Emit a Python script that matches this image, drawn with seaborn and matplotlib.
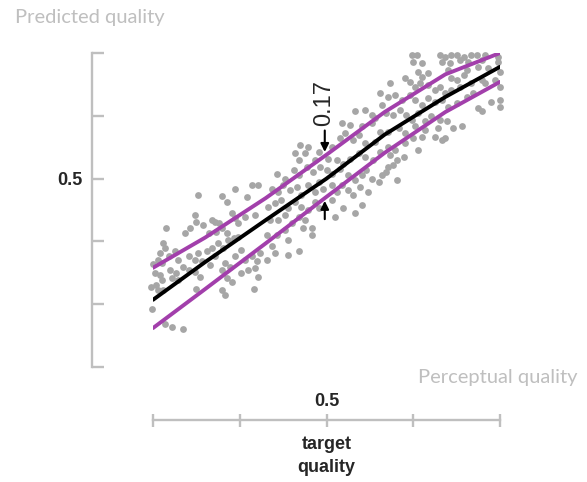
import pandas as pd
import seaborn as sns
import matplotlib.pyplot as plt

# 1. Data
perceptual_q = [
    0.352, 0.380, 0.385, 0.408, 0.348, 0.350, 0.368, 0.371, 0.376, 0.391, 0.394, 0.398, 0.406, 0.418,
    0.315, 0.337, 0.343, 0.358, 0.364, 0.373, 0.379, 0.385, 0.387, 0.393, 0.398,
    0.312, 0.314, 0.308, 0.306, 0.300, 0.310, 0.318, 0.325, 0.329, 0.335, 0.341, 0.348, 0.352, 0.356,
    0.362, 0.368, 0.371, 0.375, 0.381, 0.383, 0.389, 0.395, 0.402, 0.406, 0.414, 0.420, 0.423,
    0.302, 0.308, 0.310, 0.320, 0.322, 0.327, 0.329, 0.341, 0.348, 0.354, 0.366, 0.379, 0.385, 0.391,
    0.402, 0.410, 0.418, 0.421, 0.298, 0.304, 0.306, 0.312, 0.350, 0.379, 0.383, 0.416,
    0.299, 0.314, 0.322, 0.335, 0.395, 0.414, 0.421,
    0.518, 0.527, 0.541, 0.552, 0.562, 0.469, 0.479, 0.475, 0.464, 0.468, 0.491, 0.487, 0.506, 0.516,
    0.521, 0.531, 0.537, 0.544, 0.556, 0.562, 0.554, 0.544, 0.537, 0.527, 0.519, 0.512, 0.502,
    0.443, 0.452, 0.462, 0.468, 0.477, 0.485, 0.493, 0.500, 0.506, 0.516, 0.525, 0.533, 0.541, 0.546,
    0.552, 0.560, 0.564, 0.437, 0.444, 0.450, 0.458, 0.466, 0.471, 0.479, 0.487, 0.491, 0.496, 0.506,
    0.512, 0.518, 0.525, 0.531, 0.539, 0.548, 0.433, 0.441, 0.448, 0.456, 0.464, 0.471, 0.479, 0.487,
    0.491, 0.506, 0.519, 0.533, 0.541, 0.510, 0.435, 0.444, 0.452, 0.460, 0.468, 0.475, 0.483, 0.473,
    0.452, 0.431, 0.443, 0.456, 0.437, 0.441, 0.456, 0.468, 0.431, 0.483,
    0.562, 0.533, 0.544, 0.552, 0.564, 0.556,
    0.598, 0.604, 0.631, 0.637, 0.644, 0.650, 0.658, 0.667, 0.673, 0.683, 0.698,
    0.600, 0.610, 0.633, 0.642, 0.654, 0.663, 0.679, 0.698,
    0.617, 0.606, 0.610, 0.640, 0.644, 0.650, 0.658, 0.662, 0.675, 0.686, 0.700,
    0.573, 0.590, 0.596, 0.602, 0.608, 0.617, 0.625, 0.631, 0.637, 0.644, 0.654, 0.667, 0.679, 0.683,
    0.694, 0.700, 0.700, 0.571, 0.579, 0.587, 0.596, 0.602, 0.610, 0.617, 0.625, 0.633, 0.640, 0.650,
    0.662, 0.669, 0.675, 0.679, 0.690, 0.700, 0.569, 0.577, 0.585, 0.592, 0.598, 0.606, 0.614, 0.621,
    0.631, 0.639, 0.646, 0.656, 0.629, 0.614, 0.602, 0.571, 0.583, 0.590, 0.600, 0.610, 0.625, 0.633,
    0.637, 0.571, 0.579, 0.590, 0.606, 0.573, 0.581, 0.589, 0.571, 0.577, 0.569, 0.581,
]
predicted_q = [
    0.474, 0.472, 0.463, 0.470, 0.442, 0.431, 0.434, 0.431, 0.429, 0.445, 0.437, 0.429, 0.439, 0.442,
    0.421, 0.413, 0.421, 0.426, 0.413, 0.415, 0.421, 0.413, 0.402, 0.405, 0.407,
    0.397, 0.389, 0.381, 0.370, 0.364, 0.365, 0.376, 0.384, 0.370, 0.360, 0.376, 0.370, 0.381, 0.368,
    0.384, 0.389, 0.376, 0.397, 0.389, 0.365, 0.360, 0.376, 0.386, 0.370, 0.376, 0.368, 0.381,
    0.349, 0.346, 0.338, 0.354, 0.341, 0.349, 0.338, 0.354, 0.352, 0.344, 0.362, 0.354, 0.341, 0.336,
    0.349, 0.354, 0.357, 0.344, 0.328, 0.330, 0.323, 0.323, 0.325, 0.323, 0.315, 0.324,
    0.293, 0.269, 0.264, 0.261, 0.484, 0.490, 0.490,
    0.588, 0.585, 0.583, 0.588, 0.575, 0.554, 0.551, 0.540, 0.540, 0.530, 0.543, 0.530, 0.551, 0.564,
    0.572, 0.561, 0.569, 0.556, 0.559, 0.543, 0.530, 0.535, 0.540, 0.532, 0.524, 0.530, 0.532,
    0.508, 0.500, 0.514, 0.506, 0.519, 0.511, 0.519, 0.514, 0.508, 0.516, 0.506, 0.498, 0.506, 0.514,
    0.500, 0.495, 0.506, 0.484, 0.479, 0.490, 0.482, 0.487, 0.474, 0.490, 0.479, 0.495, 0.484, 0.490,
    0.479, 0.490, 0.482, 0.474, 0.487, 0.479, 0.455, 0.461, 0.466, 0.453, 0.463, 0.455, 0.450, 0.463,
    0.453, 0.466, 0.453, 0.445, 0.458, 0.439, 0.434, 0.434, 0.442, 0.429, 0.439, 0.434, 0.421, 0.421,
    0.418, 0.410, 0.410, 0.402, 0.392, 0.381, 0.378, 0.384, 0.370, 0.410,
    0.636, 0.607, 0.609, 0.601, 0.617, 0.596,
    0.697, 0.697, 0.697, 0.694, 0.697, 0.697, 0.694, 0.697, 0.697, 0.697, 0.694,
    0.686, 0.684, 0.686, 0.684, 0.689, 0.686, 0.689, 0.686,
    0.668, 0.670, 0.662, 0.673, 0.660, 0.657, 0.665, 0.673, 0.678, 0.676, 0.670,
    0.652, 0.660, 0.654, 0.646, 0.652, 0.649, 0.641, 0.646, 0.636, 0.641, 0.646, 0.652, 0.657, 0.652,
    0.657, 0.646, 0.625, 0.630, 0.633, 0.625, 0.633, 0.625, 0.617, 0.628, 0.622, 0.625, 0.614, 0.620,
    0.630, 0.636, 0.612, 0.607, 0.622, 0.614, 0.604, 0.601, 0.609, 0.601, 0.593, 0.604, 0.591, 0.599,
    0.593, 0.591, 0.580, 0.583, 0.580, 0.577, 0.583, 0.575, 0.580, 0.572, 0.564, 0.567, 0.567, 0.561,
    0.564, 0.551, 0.546, 0.556, 0.546, 0.538, 0.530, 0.535, 0.519, 0.522, 0.511, 0.498,
]

curve_x = [0.30, 0.36, 0.43, 0.50, 0.567, 0.637, 0.70]
fit_y = [0.307, 0.367, 0.434, 0.500, 0.570, 0.630, 0.678]
upper_y = [0.358, 0.406, 0.469, 0.538, 0.606, 0.666, 0.700]
lower_y = [0.262, 0.324, 0.397, 0.471, 0.541, 0.606, 0.654]

scatter_df = pd.DataFrame({"perceptual": perceptual_q, "predicted": predicted_q})
curve_df = pd.DataFrame({"x": curve_x, "fit": fit_y, "upper": upper_y, "lower": lower_y})

GRAY_TXT = "#bfbfbf"
PURPLE = "#a23fab"
PX = 72 / 100  # points per pixel at dpi 100
BOLD = dict(fontsize=13, fontweight="bold", family="Liberation Sans")

# 2. Plot
sns.set_style("white")
plt.rcParams["font.family"] = ["Lato", "DejaVu Sans"]

fig = plt.figure(figsize=(5.87, 4.82), dpi=100)
ax = fig.add_axes([153 / 587, 1 - 367 / 482, 347 / 587, 314 / 482])

sns.scatterplot(data=scatter_df, x="perceptual", y="predicted", ax=ax, color="#a6a6a6",
                s=24, linewidth=0, clip_on=False, zorder=1)
sns.lineplot(data=curve_df, x="x", y="upper", ax=ax, color=PURPLE, lw=2.8, zorder=2)
sns.lineplot(data=curve_df, x="x", y="lower", ax=ax, color=PURPLE, lw=2.8, zorder=2)
sns.lineplot(data=curve_df, x="x", y="fit", ax=ax, color="black", lw=2.8, zorder=3)

ax.set_xlim(0.3, 0.7)
ax.set_ylim(0.2, 0.7)
ax.set_xlabel("")
ax.set_ylabel("")

# axes styling: floating grey spines
for side in ["top", "right"]:
    ax.spines[side].set_visible(False)
ax.spines["left"].set_position(("outward", 61 * PX))
ax.spines["bottom"].set_position(("outward", 53 * PX))
for side in ["left", "bottom"]:
    ax.spines[side].set_color("#bfbfbf")
    ax.spines[side].set_linewidth(1.7)

ax.set_yticks([0.2, 0.3, 0.4, 0.5, 0.6, 0.7])
ax.set_yticklabels(["", "", "", "0.5", "", ""], **BOLD)
ax.tick_params(axis="y", left=True, direction="in", length=12 * PX, width=1.7,
               color="#bfbfbf", pad=10 * PX)
ax.set_xticks([0.3, 0.4, 0.5, 0.6, 0.7])
ax.set_xticklabels([])
ax.tick_params(axis="x", bottom=True, direction="inout", length=13 * PX, width=1.7,
               color="#bfbfbf")

xt = ax.get_xaxis_transform()
ax.text(0.5, -0.111, "0.5", transform=xt, ha="center", va="center", **BOLD)
ax.text(0.5, -0.283, "target\nquality", transform=xt, ha="center", va="center",
        linespacing=1.45, **BOLD)

# gap annotation
ax.annotate("", xy=(0.498, 0.538), xytext=(0.498, 0.581),
            arrowprops=dict(arrowstyle="-|>", color="black", lw=1.5, mutation_scale=12))
ax.annotate("", xy=(0.498, 0.469), xytext=(0.498, 0.431),
            arrowprops=dict(arrowstyle="-|>", color="black", lw=1.5, mutation_scale=12))
ax.text(0.497, 0.620, "0.17", rotation=90, ha="center", va="center",
        fontsize=17, family=["Liberation Sans", "DejaVu Sans"])

fig.text(15 / 587, 1 - 18 / 482, "Predicted quality", ha="left", va="center",
         fontsize=14.5, color=GRAY_TXT)
fig.text(578 / 587, 1 - 377 / 482, "Perceptual quality", ha="right", va="center",
         fontsize=14.5, color=GRAY_TXT)

fig.savefig("out.png", dpi=100)
